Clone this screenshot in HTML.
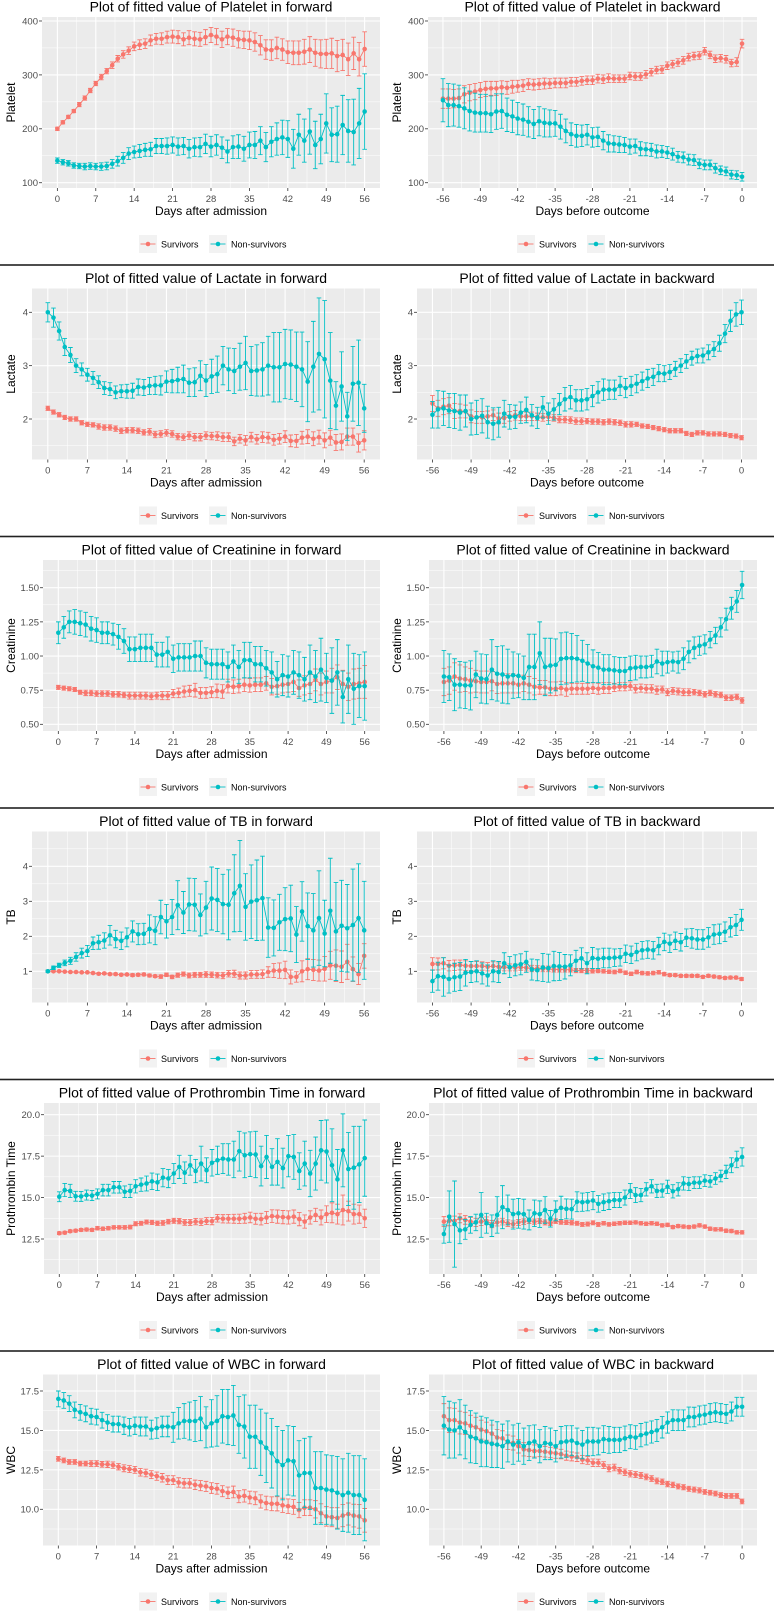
<!DOCTYPE html>
<html><head><meta charset="utf-8">
<style>
html,body{margin:0;padding:0;background:#fff;}
svg{display:block;font-family:"Liberation Sans",Arial,sans-serif;}
</style></head>
<body>
<svg id="fig" width="774" height="1612" viewBox="0 0 774 1612" xmlns="http://www.w3.org/2000/svg"></svg>
<script>
const fwdDays = Array.from({length:57},(_,i)=>i);
const bwdDays = Array.from({length:57},(_,i)=>i-56);
const fwdTicks = [0,7,14,21,28,35,42,49,56];
const bwdTicks = [-56,-49,-42,-35,-28,-21,-14,-7,0];
const seriesNames = ["Survivors","Non-survivors"];

const platFwdS=[200,212,222,233,245,257,271,284,296,307,318,330,338,345,353,356,358,364,367,367,370,371,370,366,369,367,366,370,374,371,366,371,369,366,365,364,361,355,347,346,350,347,342,341,341,343,347,341,339,339,340,335,337,329,340,329,348];
const platFwdSErr=[3,3,3,3,4,4,4,4,5,5,6,6,7,7,8,9,9,10,10,11,11,12,12,12,13,13,13,14,14,15,15,15,16,16,16,17,17,18,18,19,20,20,21,22,22,23,24,25,26,27,28,29,29,30,30,31,32];
const platFwdN=[141,138,136,132,131,130,131,130,130,131,135,140,146,154,157,159,161,162,168,168,168,170,167,168,163,166,166,172,167,170,165,158,166,167,163,170,170,178,166,176,181,184,181,163,189,178,195,170,181,210,189,190,207,196,194,210,232];
const platFwdNErr=[5,5,5,5,5,6,6,6,7,7,8,9,10,11,11,12,12,13,14,14,15,15,16,16,17,17,18,18,19,19,20,21,21,22,23,24,25,26,27,28,30,32,34,36,38,40,42,44,46,55,50,52,55,58,61,65,70];
const platBwdS=[256,256,256,257,264,267,269,272,274,275,275,277,276,278,279,280,283,282,283,284,284,285,285,285,287,287,289,290,290,293,292,294,293,293,293,298,297,297,301,305,309,310,317,320,323,327,333,335,336,344,337,330,331,329,322,324,358];
const platBwdSErr=[18,18,17,17,16,15,15,14,14,13,13,12,12,12,11,11,10,10,10,10,9,9,9,9,8,8,8,8,8,8,8,8,7,7,7,7,7,7,7,7,7,7,7,7,7,7,7,7,7,7,7,7,7,7,7,8,8];
const platBwdN=[253,244,244,242,238,233,230,229,229,227,232,233,226,223,219,217,213,209,214,211,210,210,204,196,190,187,187,189,184,185,178,173,172,171,170,167,168,163,162,161,158,158,156,153,148,147,143,142,135,133,133,127,123,121,115,114,111];
const platBwdNErr=[40,40,39,39,38,37,36,35,35,34,33,32,31,30,30,29,28,27,27,26,25,24,23,22,21,21,20,19,18,18,17,16,15,15,14,14,13,13,12,12,12,11,11,11,10,10,10,10,9,9,9,9,8,8,8,8,8];

const lacFwdS=[2.2,2.13,2.08,2.03,2.0,2.0,1.93,1.9,1.89,1.86,1.84,1.84,1.82,1.78,1.79,1.79,1.78,1.75,1.76,1.71,1.72,1.74,1.72,1.67,1.66,1.69,1.66,1.66,1.69,1.68,1.68,1.66,1.66,1.58,1.63,1.6,1.66,1.62,1.66,1.65,1.61,1.63,1.67,1.59,1.59,1.65,1.67,1.63,1.66,1.6,1.65,1.56,1.57,1.67,1.67,1.55,1.6];
const lacFwdSErr=[0.04,0.04,0.04,0.04,0.04,0.04,0.04,0.04,0.04,0.05,0.05,0.05,0.05,0.05,0.05,0.05,0.05,0.05,0.06,0.06,0.06,0.06,0.06,0.06,0.06,0.07,0.07,0.07,0.07,0.07,0.08,0.08,0.08,0.08,0.08,0.09,0.09,0.09,0.1,0.1,0.1,0.1,0.11,0.11,0.12,0.12,0.13,0.13,0.13,0.14,0.14,0.15,0.15,0.16,0.16,0.17,0.18];
const lacFwdN=[4.0,3.9,3.65,3.35,3.2,3.0,2.93,2.83,2.77,2.69,2.58,2.56,2.5,2.52,2.52,2.53,2.6,2.59,2.62,2.63,2.63,2.7,2.71,2.73,2.75,2.68,2.69,2.81,2.72,2.8,2.84,3.0,2.93,2.9,2.98,3.05,2.9,2.91,2.93,3.0,2.97,2.97,3.03,3.02,2.98,2.93,2.7,2.98,3.22,3.12,2.72,2.25,2.61,2.05,2.66,2.68,2.2];
const lacFwdNErr=[0.18,0.18,0.17,0.16,0.14,0.13,0.12,0.12,0.12,0.12,0.12,0.12,0.12,0.12,0.13,0.14,0.15,0.15,0.16,0.17,0.18,0.2,0.22,0.24,0.26,0.26,0.27,0.28,0.3,0.32,0.34,0.36,0.4,0.42,0.44,0.5,0.46,0.48,0.5,0.55,0.65,0.65,0.65,0.65,0.65,0.7,0.75,0.85,1.05,1.1,0.9,0.45,0.65,0.45,0.7,0.8,0.45];
const lacBwdS=[2.29,2.2,2.23,2.25,2.15,2.15,2.14,2.05,2.03,2.03,2.05,2.07,2.01,2.02,2.05,2.07,2.05,2.05,2.05,2.04,2.03,2.04,2.02,1.99,1.99,1.98,1.96,1.96,1.96,1.95,1.95,1.94,1.95,1.94,1.93,1.9,1.9,1.9,1.87,1.86,1.84,1.82,1.8,1.78,1.78,1.78,1.73,1.71,1.74,1.74,1.72,1.72,1.72,1.71,1.69,1.68,1.65];
const lacBwdSErr=[0.15,0.15,0.15,0.15,0.14,0.13,0.12,0.12,0.11,0.11,0.1,0.1,0.1,0.1,0.09,0.09,0.08,0.08,0.08,0.07,0.07,0.07,0.06,0.06,0.06,0.06,0.06,0.06,0.05,0.05,0.05,0.05,0.05,0.05,0.05,0.05,0.05,0.04,0.04,0.04,0.04,0.04,0.04,0.04,0.04,0.04,0.04,0.04,0.04,0.04,0.04,0.04,0.04,0.04,0.04,0.04,0.04];
const lacBwdN=[2.08,2.18,2.2,2.16,2.15,2.12,2.15,2.0,2.03,2.06,1.94,1.91,1.94,2.1,2.04,2.04,2.12,2.17,2.07,2.02,2.22,2.1,2.18,2.28,2.37,2.41,2.35,2.35,2.37,2.43,2.5,2.55,2.55,2.55,2.62,2.58,2.62,2.66,2.71,2.76,2.79,2.86,2.85,2.88,2.94,3.0,3.08,3.14,3.18,3.19,3.25,3.31,3.42,3.6,3.84,3.96,4.0];
const lacBwdNErr=[0.25,0.35,0.32,0.32,0.33,0.33,0.3,0.3,0.32,0.32,0.3,0.3,0.28,0.25,0.23,0.22,0.2,0.24,0.2,0.2,0.2,0.2,0.2,0.2,0.22,0.22,0.2,0.2,0.2,0.2,0.2,0.2,0.18,0.18,0.18,0.18,0.18,0.17,0.17,0.17,0.16,0.16,0.15,0.14,0.14,0.13,0.13,0.13,0.13,0.14,0.14,0.14,0.15,0.17,0.2,0.22,0.23];

const creFwdS=[0.77,0.765,0.76,0.755,0.735,0.73,0.73,0.725,0.725,0.725,0.72,0.72,0.715,0.71,0.71,0.71,0.71,0.705,0.71,0.71,0.71,0.725,0.73,0.74,0.745,0.75,0.73,0.73,0.735,0.745,0.74,0.78,0.775,0.78,0.79,0.785,0.79,0.79,0.8,0.775,0.78,0.79,0.795,0.81,0.765,0.785,0.795,0.825,0.795,0.81,0.82,0.845,0.795,0.775,0.795,0.8,0.81];
const creFwdSErr=[0.015,0.015,0.015,0.015,0.015,0.02,0.02,0.02,0.02,0.02,0.02,0.02,0.02,0.025,0.025,0.025,0.025,0.025,0.025,0.03,0.03,0.03,0.035,0.04,0.04,0.05,0.04,0.04,0.04,0.05,0.05,0.05,0.05,0.05,0.05,0.05,0.05,0.05,0.05,0.06,0.06,0.06,0.06,0.07,0.06,0.07,0.07,0.08,0.08,0.08,0.09,0.09,0.1,0.1,0.11,0.11,0.12];
const creFwdN=[1.17,1.21,1.25,1.25,1.24,1.23,1.2,1.19,1.17,1.17,1.16,1.14,1.11,1.05,1.05,1.06,1.06,1.06,1.01,1.01,1.03,0.98,0.99,0.99,0.99,1.0,1.0,0.95,0.94,0.94,0.94,0.92,0.96,0.92,0.97,0.97,0.94,0.94,0.91,0.88,0.83,0.86,0.85,0.88,0.86,0.83,0.88,0.85,0.9,0.84,0.82,0.88,0.7,0.83,0.76,0.78,0.78];
const creFwdNErr=[0.08,0.08,0.08,0.09,0.09,0.09,0.09,0.09,0.08,0.08,0.08,0.09,0.09,0.09,0.09,0.1,0.1,0.1,0.09,0.09,0.11,0.1,0.1,0.1,0.1,0.11,0.11,0.11,0.11,0.11,0.11,0.11,0.12,0.12,0.13,0.13,0.13,0.13,0.13,0.15,0.13,0.15,0.15,0.16,0.17,0.16,0.2,0.19,0.23,0.18,0.24,0.24,0.19,0.25,0.26,0.23,0.25];
const creBwdS=[0.81,0.82,0.85,0.835,0.83,0.82,0.815,0.81,0.81,0.815,0.795,0.8,0.8,0.8,0.79,0.8,0.79,0.775,0.77,0.77,0.76,0.76,0.765,0.755,0.76,0.76,0.76,0.76,0.765,0.76,0.765,0.765,0.77,0.775,0.775,0.78,0.76,0.765,0.76,0.76,0.75,0.755,0.735,0.745,0.74,0.735,0.735,0.735,0.73,0.72,0.73,0.72,0.715,0.695,0.695,0.7,0.675];
const creBwdSErr=[0.1,0.1,0.1,0.1,0.09,0.09,0.08,0.08,0.08,0.07,0.07,0.07,0.07,0.07,0.06,0.06,0.06,0.06,0.05,0.05,0.05,0.05,0.05,0.05,0.04,0.04,0.04,0.04,0.04,0.04,0.04,0.04,0.03,0.03,0.03,0.03,0.03,0.03,0.03,0.03,0.03,0.025,0.025,0.025,0.025,0.025,0.025,0.02,0.02,0.02,0.02,0.02,0.02,0.02,0.02,0.02,0.02];
const creBwdN=[0.85,0.845,0.79,0.79,0.785,0.785,0.865,0.835,0.83,0.9,0.87,0.865,0.85,0.86,0.855,0.84,0.92,0.92,1.02,0.92,0.93,0.935,0.98,0.985,0.985,0.98,0.965,0.945,0.925,0.915,0.9,0.9,0.895,0.89,0.89,0.91,0.915,0.92,0.92,0.925,0.96,0.945,0.955,0.96,0.955,0.98,1.03,1.06,1.075,1.085,1.12,1.15,1.21,1.27,1.35,1.4,1.52];
const creBwdNErr=[0.19,0.17,0.19,0.17,0.17,0.18,0.17,0.18,0.18,0.22,0.2,0.21,0.2,0.17,0.16,0.16,0.24,0.24,0.23,0.21,0.2,0.19,0.19,0.19,0.18,0.17,0.15,0.14,0.12,0.11,0.11,0.11,0.1,0.1,0.1,0.09,0.09,0.08,0.08,0.08,0.09,0.09,0.08,0.07,0.08,0.08,0.08,0.08,0.07,0.07,0.06,0.06,0.07,0.08,0.08,0.08,0.1];

const tbFwdS=[1.0,1.0,1.0,0.99,0.98,0.98,0.97,0.97,0.95,0.93,0.94,0.92,0.92,0.9,0.91,0.89,0.9,0.91,0.88,0.86,0.85,0.9,0.84,0.89,0.92,0.88,0.9,0.9,0.91,0.9,0.89,0.88,0.93,0.93,0.88,0.88,0.91,0.91,0.92,0.98,1.02,1.02,1.04,0.84,0.84,1.0,1.06,1.04,1.02,1.07,1.17,1.16,1.13,1.27,1.06,0.92,1.44];
const tbFwdSErr=[0.02,0.02,0.02,0.02,0.02,0.02,0.02,0.02,0.03,0.03,0.03,0.03,0.03,0.03,0.03,0.04,0.04,0.04,0.04,0.04,0.05,0.05,0.05,0.06,0.06,0.07,0.07,0.07,0.08,0.08,0.08,0.09,0.09,0.1,0.1,0.1,0.11,0.11,0.12,0.15,0.2,0.22,0.25,0.2,0.15,0.3,0.3,0.3,0.3,0.35,0.4,0.45,0.45,0.5,0.35,0.3,0.35];
const tbFwdN=[1.0,1.1,1.17,1.24,1.3,1.41,1.52,1.58,1.8,1.83,1.88,2.03,1.92,1.87,1.97,2.14,2.06,2.07,2.21,2.16,2.55,2.43,2.55,2.89,2.68,2.91,2.9,2.61,2.82,3.08,3.04,2.92,2.9,3.23,3.44,2.84,2.99,3.03,3.09,2.25,2.24,2.4,2.49,2.51,2.05,2.71,2.29,2.17,2.52,2.08,2.73,2.14,2.3,2.23,2.32,2.52,2.17];
const tbFwdNErr=[0.03,0.05,0.06,0.08,0.1,0.12,0.14,0.16,0.18,0.2,0.22,0.28,0.25,0.25,0.27,0.3,0.3,0.3,0.4,0.4,0.48,0.48,0.5,0.7,0.6,0.75,0.75,0.6,0.75,0.9,0.9,0.85,1.0,1.1,1.3,0.95,1.05,1.15,1.2,0.85,0.8,0.8,0.9,0.95,0.8,0.85,0.95,1.05,1.35,0.95,1.5,1.4,1.3,1.25,1.6,1.55,1.4];
const tbBwdS=[1.21,1.21,1.23,1.16,1.17,1.18,1.16,1.15,1.15,1.15,1.13,1.15,1.13,1.12,1.11,1.11,1.12,1.1,1.08,1.08,1.07,1.07,1.05,1.05,1.05,1.04,1.02,1.02,1.02,1.01,1.01,1.0,0.99,0.98,1.01,0.96,0.93,0.98,0.95,0.94,0.95,0.97,0.92,0.89,0.89,0.87,0.87,0.87,0.87,0.84,0.87,0.85,0.83,0.81,0.82,0.82,0.78];
const tbBwdSErr=[0.18,0.17,0.16,0.15,0.15,0.14,0.14,0.13,0.13,0.12,0.12,0.12,0.11,0.11,0.1,0.1,0.09,0.09,0.09,0.08,0.08,0.08,0.07,0.07,0.07,0.06,0.06,0.06,0.06,0.06,0.05,0.05,0.05,0.05,0.05,0.05,0.05,0.05,0.05,0.05,0.05,0.05,0.05,0.04,0.04,0.04,0.04,0.04,0.04,0.04,0.04,0.04,0.04,0.04,0.04,0.04,0.04];
const tbBwdN=[0.72,0.86,0.84,0.78,0.83,0.85,0.96,0.98,1.0,0.94,0.88,1.0,0.98,1.23,1.12,1.17,1.2,1.27,1.05,1.03,1.11,1.09,1.15,1.14,1.13,1.17,1.3,1.37,1.23,1.38,1.36,1.38,1.38,1.39,1.4,1.5,1.47,1.55,1.6,1.62,1.6,1.72,1.84,1.79,1.87,1.83,1.96,1.94,1.91,1.91,1.97,2.05,2.07,2.13,2.26,2.32,2.47];
const tbBwdNErr=[0.32,0.4,0.55,0.4,0.4,0.4,0.38,0.3,0.3,0.3,0.3,0.3,0.3,0.3,0.3,0.3,0.3,0.3,0.3,0.3,0.4,0.4,0.42,0.4,0.35,0.3,0.3,0.3,0.3,0.3,0.28,0.28,0.28,0.25,0.25,0.25,0.25,0.25,0.25,0.25,0.25,0.25,0.25,0.25,0.25,0.25,0.25,0.28,0.28,0.28,0.28,0.28,0.28,0.28,0.28,0.3,0.3];

const ptFwdS=[12.85,12.88,12.97,13.0,13.05,13.07,13.05,13.15,13.12,13.15,13.2,13.2,13.2,13.22,13.42,13.45,13.52,13.5,13.45,13.47,13.55,13.6,13.58,13.5,13.5,13.55,13.52,13.58,13.58,13.75,13.72,13.72,13.72,13.72,13.75,13.8,13.72,13.7,13.8,13.88,13.85,13.82,13.8,13.85,13.7,13.55,13.8,13.95,13.8,14.0,14.08,14.0,14.25,14.18,14.0,14.0,13.75];
const ptFwdSErr=[0.08,0.08,0.08,0.08,0.09,0.09,0.09,0.1,0.1,0.1,0.1,0.1,0.11,0.11,0.12,0.12,0.12,0.13,0.13,0.14,0.14,0.15,0.16,0.17,0.18,0.19,0.2,0.21,0.22,0.23,0.25,0.26,0.27,0.28,0.3,0.32,0.33,0.35,0.36,0.38,0.4,0.4,0.4,0.4,0.4,0.4,0.4,0.4,0.45,0.5,0.6,0.6,0.9,0.6,0.6,0.55,0.55];
const ptFwdN=[15.05,15.45,15.4,15.08,15.07,15.15,15.12,15.22,15.45,15.45,15.62,15.62,15.35,15.4,15.68,15.78,15.85,15.98,15.92,16.2,16.15,16.45,16.85,16.5,16.95,16.6,17.05,16.65,17.1,17.25,17.35,17.3,17.3,17.8,17.55,17.62,17.6,16.9,17.45,16.85,17.15,16.78,17.5,17.45,16.6,17.05,16.45,17.05,17.85,17.78,16.95,16.1,17.85,16.72,16.8,17.0,17.38];
const ptFwdNErr=[0.3,0.4,0.4,0.3,0.3,0.3,0.3,0.3,0.35,0.35,0.35,0.35,0.35,0.4,0.4,0.4,0.45,0.5,0.5,0.55,0.55,0.6,0.7,0.65,0.6,0.7,1.05,0.75,0.8,0.85,0.9,0.95,1.1,1.2,1.35,1.35,1.4,1.2,1.3,1.1,1.4,1.2,1.25,1.35,1.1,1.35,1.4,1.6,1.8,1.9,2.2,1.8,2.2,2.2,2.5,2.3,2.3];
const ptBwdS=[13.55,13.6,13.6,13.75,13.65,13.55,13.5,13.55,13.6,13.4,13.5,13.55,13.45,13.4,13.5,13.55,13.6,13.55,13.58,13.5,13.45,13.58,13.52,13.5,13.48,13.45,13.38,13.4,13.48,13.38,13.45,13.38,13.42,13.45,13.48,13.48,13.5,13.45,13.42,13.45,13.42,13.32,13.35,13.22,13.28,13.25,13.22,13.25,13.32,13.25,13.12,13.08,13.08,13.0,12.98,12.9,12.9];
const ptBwdSErr=[0.3,0.3,0.28,0.27,0.26,0.25,0.25,0.24,0.23,0.22,0.21,0.2,0.2,0.19,0.18,0.17,0.16,0.16,0.15,0.15,0.14,0.14,0.13,0.13,0.13,0.12,0.12,0.12,0.12,0.12,0.11,0.11,0.11,0.11,0.11,0.1,0.1,0.1,0.1,0.1,0.1,0.1,0.1,0.1,0.1,0.1,0.1,0.1,0.1,0.1,0.1,0.1,0.1,0.1,0.1,0.1,0.1];
const ptBwdN=[12.8,13.85,13.4,13.02,13.08,13.35,13.5,13.95,13.45,13.3,13.95,14.42,14.25,14.0,14.05,14.0,13.65,14.05,14.0,14.25,13.72,14.2,14.38,14.32,14.3,14.75,14.72,14.75,14.82,14.62,14.72,14.78,14.85,14.85,15.0,15.4,15.15,15.15,15.5,15.68,15.4,15.42,15.65,15.38,15.5,15.85,15.82,15.9,15.9,16.02,15.98,16.15,16.3,16.55,16.95,17.3,17.45];
const ptBwdNErr=[0.55,1.55,2.6,0.8,0.6,0.5,0.5,1.35,0.6,0.65,1.1,1.3,0.9,0.9,0.9,0.9,0.6,0.8,0.8,0.8,0.5,0.6,0.7,0.6,0.6,0.6,0.55,0.55,0.55,0.5,0.5,0.5,0.45,0.45,0.45,0.45,0.45,0.4,0.4,0.4,0.4,0.4,0.4,0.4,0.4,0.4,0.4,0.35,0.35,0.35,0.35,0.35,0.35,0.4,0.45,0.5,0.55];

const wbcFwdS=[13.2,13.1,13.0,13.0,12.9,12.9,12.9,12.9,12.85,12.85,12.8,12.7,12.6,12.55,12.5,12.35,12.3,12.2,12.1,12.0,11.85,11.85,11.7,11.65,11.65,11.55,11.5,11.45,11.35,11.3,11.15,11.05,11.1,10.8,10.85,10.75,10.7,10.5,10.4,10.35,10.35,10.25,10.2,10.15,9.95,10.1,10.1,10.0,9.75,9.55,9.5,9.45,9.6,9.7,9.6,9.55,9.3];
const wbcFwdSErr=[0.15,0.15,0.15,0.15,0.15,0.15,0.18,0.18,0.18,0.2,0.2,0.2,0.22,0.22,0.22,0.24,0.24,0.25,0.26,0.27,0.28,0.28,0.3,0.3,0.3,0.3,0.32,0.32,0.34,0.34,0.35,0.36,0.37,0.38,0.39,0.4,0.41,0.42,0.43,0.44,0.45,0.45,0.46,0.47,0.48,0.5,0.5,0.55,0.6,0.62,0.6,0.65,0.7,0.7,0.72,0.75,0.75];
const wbcFwdN=[17.0,16.9,16.7,16.3,16.15,16.05,15.9,15.85,15.65,15.5,15.4,15.4,15.3,15.2,15.3,15.25,15.25,15.05,15.15,15.25,15.25,15.2,15.45,15.6,15.6,15.6,15.75,15.2,15.45,15.6,15.9,15.85,15.95,15.35,15.25,14.6,14.6,14.25,13.9,13.55,13.05,12.8,13.1,13.05,12.15,12.3,12.3,11.35,11.35,11.25,11.2,11.05,10.9,11.05,10.9,10.9,10.6];
const wbcFwdNErr=[0.5,0.5,0.5,0.5,0.5,0.5,0.5,0.5,0.5,0.5,0.5,0.5,0.55,0.55,0.55,0.6,0.6,0.6,0.65,0.65,0.65,0.95,1.0,1.1,1.2,1.3,1.4,1.3,1.5,1.6,1.7,1.75,1.9,1.8,2.0,2.0,2.0,2.1,2.2,2.2,2.2,2.2,2.2,2.2,2.2,2.2,2.3,2.3,2.3,2.2,2.2,2.3,2.3,2.5,2.5,2.5,2.6];
const wbcBwdS=[15.9,15.65,15.65,15.5,15.45,15.3,15.2,15.05,14.95,14.8,14.55,14.5,14.25,14.2,14.0,13.8,13.75,13.7,13.7,13.65,13.6,13.55,13.5,13.4,13.35,13.3,13.15,13.1,12.95,12.95,12.8,12.6,12.65,12.45,12.35,12.25,12.2,12.15,12.05,11.95,11.8,11.75,11.6,11.55,11.45,11.4,11.3,11.25,11.2,11.1,11.05,11.0,10.9,10.85,10.85,10.85,10.5];
const wbcBwdSErr=[0.8,0.78,0.75,0.72,0.7,0.66,0.63,0.6,0.57,0.54,0.5,0.48,0.46,0.44,0.43,0.42,0.4,0.38,0.36,0.34,0.33,0.32,0.3,0.29,0.28,0.27,0.26,0.25,0.24,0.23,0.22,0.22,0.21,0.2,0.2,0.2,0.19,0.19,0.18,0.18,0.18,0.17,0.17,0.17,0.16,0.16,0.16,0.16,0.16,0.15,0.15,0.15,0.15,0.15,0.15,0.15,0.15];
const wbcBwdN=[15.3,15.05,15.0,15.2,14.9,14.6,14.5,14.3,14.25,14.15,14.1,14.0,14.3,14.1,14.25,14.0,14.2,14.3,14.0,14.2,14.15,14.0,14.25,14.3,14.35,14.2,14.1,14.3,14.3,14.3,14.45,14.4,14.4,14.4,14.5,14.6,14.55,14.7,14.8,14.9,15.0,15.2,15.5,15.65,15.65,15.65,15.85,15.85,15.95,16.0,16.1,16.15,16.1,16.05,16.2,16.5,16.5];
const wbcBwdNErr=[1.85,1.8,1.75,1.75,1.7,1.65,1.6,1.6,1.55,1.5,1.45,1.4,1.3,1.25,1.2,1.15,1.1,1.05,1.05,1.05,1.0,1.0,1.0,1.0,0.95,0.95,0.9,0.9,0.9,0.85,0.85,0.85,0.8,0.8,0.78,0.76,0.75,0.74,0.72,0.7,0.7,0.68,0.67,0.66,0.65,0.65,0.63,0.62,0.6,0.6,0.6,0.6,0.6,0.6,0.6,0.6,0.6];

const platTicks=[100,200,300,400], platTickLabels=["100","200","300","400"];
const lacTicks=[2,3,4], lacTickLabels=["2","3","4"];
const creTicks=[0.5,0.75,1,1.25,1.5], creTickLabels=["0.50","0.75","1.00","1.25","1.50"];
const tbTicks=[1,2,3,4], tbTickLabels=["1","2","3","4"];
const ptTicks=[12.5,15,17.5,20], ptTickLabels=["12.5","15.0","17.5","20.0"];
const wbcTicks=[10,12.5,15,17.5], wbcTickLabels=["10.0","12.5","15.0","17.5"];

const NS="http://www.w3.org/2000/svg";
const svg=document.getElementById('fig');
const COLS=["#F8766D","#00BFC4"];
function mk(tag,attrs,parent){const e=document.createElementNS(NS,tag);for(const k in attrs)e.setAttribute(k,attrs[k]);(parent||svg).appendChild(e);return e;}

const rows=[
 {var:"Platelet",slug:"platelet",ylo:90.2,yhi:407.4,ticks:platTicks,labels:platTickLabels,pl:[42,428],
  f:[platFwdS,platFwdSErr,platFwdN,platFwdNErr],b:[platBwdS,platBwdSErr,platBwdN,platBwdNErr]},
 {var:"Lactate",slug:"lactate",ylo:1.241,yhi:4.446,ticks:lacTicks,labels:lacTickLabels,pl:[32,417],
  f:[lacFwdS,lacFwdSErr,lacFwdN,lacFwdNErr],b:[lacBwdS,lacBwdSErr,lacBwdN,lacBwdNErr]},
 {var:"Creatinine",slug:"creatinine",ylo:0.451,yhi:1.703,ticks:creTicks,labels:creTickLabels,pl:[43,429],
  f:[creFwdS,creFwdSErr,creFwdN,creFwdNErr],b:[creBwdS,creBwdSErr,creBwdN,creBwdNErr]},
 {var:"TB",slug:"tb",ylo:0.109,yhi:4.994,ticks:tbTicks,labels:tbTickLabels,pl:[32,417],
  f:[tbFwdS,tbFwdSErr,tbFwdN,tbFwdNErr],b:[tbBwdS,tbBwdSErr,tbBwdN,tbBwdNErr]},
 {var:"Prothrombin Time",slug:"prothrombin",ylo:10.388,yhi:20.706,ticks:ptTicks,labels:ptTickLabels,pl:[44,429],
  f:[ptFwdS,ptFwdSErr,ptFwdN,ptFwdNErr],b:[ptBwdS,ptBwdSErr,ptBwdN,ptBwdNErr]},
 {var:"WBC",slug:"wbc",ylo:7.705,yhi:18.546,ticks:wbcTicks,labels:wbcTickLabels,pl:[43,429],
  f:[wbcFwdS,wbcFwdSErr,wbcFwdN,wbcFwdNErr],b:[wbcBwdS,wbcBwdSErr,wbcBwdN,wbcBwdNErr]}
];

function panel(r,k,col){
  const top=-6+271.5*k;
  const colX=col*386;
  const pl=r.pl[col], pr=col?757:380, pt=top+23, pb=top+194;
  const dir=col?"backward":"forward";
  const g=mk('g',{});
  
  
  const days=col?bwdDays:fwdDays, xt=col?bwdTicks:fwdTicks;
  const xmin=days[0], xmax=days[days.length-1];
  const pad=(pr-pl)*0.05/1.1;
  const X=v=>pl+pad+(v-xmin)/(xmax-xmin)*(pr-pl-2*pad);
  const Y=v=>pb-(v-r.ylo)/(r.yhi-r.ylo)*(pb-pt);
  const t=mk('text',{x:(pl+pr)/2,y:top+17.5,'text-anchor':'middle','font-size':'14',fill:'#000'},g);
  t.textContent="Plot of fitted value of "+r.var+" in "+dir;
  
  
  const bg=mk('rect',{x:pl,y:pt,width:pr-pl,height:pb-pt,fill:'#EBEBEB'},g);
  
  
  const step=r.ticks[1]-r.ticks[0];
  for(let v=r.ticks[0]-step*1.5;v<=r.ticks[r.ticks.length-1]+step*1.5;v+=step){const y=Y(v);if(y>pt&&y<pb)mk('line',{x1:pl,x2:pr,y1:y,y2:y,stroke:'#fff','stroke-width':0.5},g);}
  for(let i=-1;i<xt.length;i++){const v=(xt[0]+7*i)+3.5;const x=X(v);if(x>pl&&x<pr)mk('line',{x1:x,x2:x,y1:pt,y2:pb,stroke:'#fff','stroke-width':0.5},g);}
  r.ticks.forEach((v,i)=>{const y=Y(v);
    mk('line',{x1:pl,x2:pr,y1:y,y2:y,stroke:'#fff','stroke-width':1.1},g);
    mk('line',{x1:pl-3,x2:pl,y1:y,y2:y,stroke:'#333','stroke-width':0.8},g);
    const l=mk('text',{x:pl-4,y:y+3.4,'text-anchor':'end','font-size':'9.5',fill:'#4D4D4D'},g);l.textContent=r.labels[i];
    
    
  });
  xt.forEach(v=>{const x=X(v);
    mk('line',{x1:x,x2:x,y1:pt,y2:pb,stroke:'#fff','stroke-width':1.1},g);
    mk('line',{x1:x,x2:x,y1:pb,y2:pb+3,stroke:'#333','stroke-width':0.8},g);
    const l=mk('text',{x:x,y:top+208,'text-anchor':'middle','font-size':'9.5',fill:'#4D4D4D'},g);l.textContent=String(v);
    
    
  });
  const xl=mk('text',{x:(pl+pr)/2,y:top+221,'text-anchor':'middle','font-size':'12',fill:'#000'},g);
  xl.textContent=col?"Days before outcome":"Days after admission";
  
  
  const yx=colX+15, yy=(pt+pb)/2;
  const yl=mk('text',{x:yx,y:yy,'text-anchor':'middle','font-size':'12',fill:'#000',transform:`rotate(-90 ${yx} ${yy})`},g);
  yl.textContent=r.var;
  
  
  const d=col?r.b:r.f;
  [[d[0],d[1]],[d[2],d[3]]].forEach((s,si)=>{
    const vals=s[0], errs=s[1], c=COLS[si];
    const sg=mk('g',{},g);
    
    
    const n=Math.min(vals.length,days.length);
    for(let i=0;i<n;i++){const x=X(days[i]),e=errs[i]||0,y1=Y(vals[i]+e),y2=Y(vals[i]-e);
      mk('path',{d:`M${x-2.3},${y1}H${x+2.3}M${x},${y1}V${y2}M${x-2.3},${y2}H${x+2.3}`,stroke:c,'stroke-width':0.9,fill:'none'},sg);}
    let p='';for(let i=0;i<n;i++)p+=(i?'L':'M')+X(days[i]).toFixed(2)+','+Y(vals[i]).toFixed(2);
    const ln=mk('path',{d:p,stroke:c,'stroke-width':0.9,fill:'none'},sg);
    
    
    for(let i=0;i<n;i++){const pt2=mk('circle',{cx:X(days[i]),cy:Y(vals[i]),r:2.3,fill:c},sg);
      
      }
  });
  const cx=colX+211+(col?-8:0), ly=top+250;
  const lg=mk('g',{},g);
  
  
  const items=[[cx-72,"Survivors",0],[cx-2,"Non-survivors",1]];
  items.forEach(it=>{
    const kx=it[0];
    const kg=mk('g',{},lg);
    
    
    mk('rect',{x:kx,y:ly-9,width:18,height:18,fill:'#F2F2F2'},kg);
    mk('line',{x1:kx+1.5,x2:kx+16.5,y1:ly,y2:ly,stroke:COLS[it[2]],'stroke-width':0.9},kg);
    mk('circle',{cx:kx+9,cy:ly,r:2.3,fill:COLS[it[2]]},kg);
    const tx=mk('text',{x:kx+22,y:ly+3.3,'font-size':'9',fill:'#000'},kg);tx.textContent=it[1];
  });
}
rows.forEach((r,k)=>{panel(r,k,0);panel(r,k,1);});
for(let k=1;k<6;k++){const y=-6+271.5*k-0.5;const s=mk('rect',{x:0,y:y-0.8,width:774,height:1.6,fill:'#222'});
  
  }
</script>
</body></html>
